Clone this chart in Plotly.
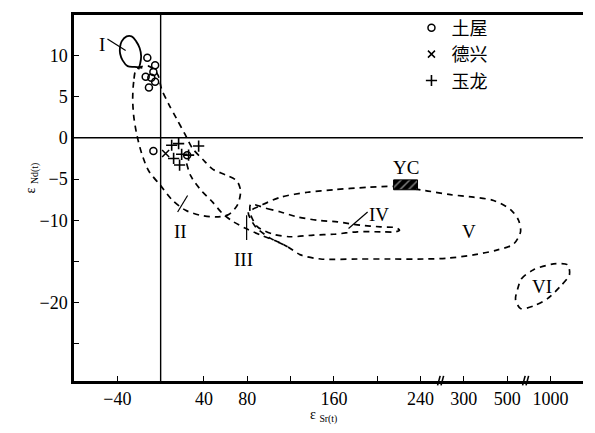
import numpy as np
import plotly.graph_objects as go

# broken eSr axis: every segment after 240 gets the width of one 40-unit step
SR_BREAKS = [-80, 240, 300, 500, 1000, 1500]
POS_BREAKS = [-80, 240, 280, 320, 360, 400]


def pos(v):
    return np.interp(v, SR_BREAKS, POS_BREAKS)


# sample points
TUWU_SR = [-12.3, -5.1, -6.7, -13.8, -8.6, -5.1, -10.8, -6.7, 24.5]
TUWU_ND = [9.7, 8.8, 8.0, 7.4, 7.3, 6.8, 6.1, -1.6, -2.1]
DEXING_SR = [4.6]
DEXING_ND = [-1.9]
YULONG_SR = [10.2, 16.6, 35.1, 12.0, 19.4, 17.5, 25.8]
YULONG_ND = [-0.9, -0.7, -1.0, -2.5, -2.0, -3.3, -2.1]

# field outlines
F1_SR = [-16.9, -24.0, -30.5, -35.1, -37.4, -37.6, -36.0, -31.4, -26.8, -22.6,
         -19.4, -18.0, -18.9, -20.5]
F1_ND = [8.5, 8.6, 8.7, 9.4, 10.2, 10.9, 11.7, 12.3, 12.3, 11.7, 10.9, 9.9, 9.0, 8.3]

F2_SR = [-22.2, -24.9, -25.8, -24.9, -22.2, -17.5, -11.1, 0.0, 11.1, 23.1, 36.9,
         50.8, 62.8, 71.1, 73.8, 70.2, 60.0, 48.0, 38.8, 29.5, 22.2, 14.8, 7.4,
         0.9, -2.8, -11.1, -22.2]
F2_ND = [8.4, 6.8, 4.7, 2.7, 0.5, -1.9, -4.0, -5.8, -7.6, -8.8, -9.4, -9.6, -9.3,
         -8.1, -6.4, -5.2, -4.5, -3.8, -2.6, -1.3, 0.5, 2.3, 4.1, 5.9, 7.7, 8.7, 8.4]

F3_SR = [24.0, 27.7, 36.9, 48.0, 57.2, 67.4, 80.3, 92.3, 108.0, 117.2]
F3_ND = [-3.1, -4.6, -6.3, -7.8, -9.2, -10.2, -11.1, -11.8, -12.6, -13.2]

F4_SR = [83.1, 98.8, 110.8, 126.5, 144.9, 163.4, 184.6, 203.1, 216.9, 220.6, 216.9,
         203.1, 181.8, 159.7, 141.2, 120.0, 104.3, 89.5, 83.1, 83.1]
F4_ND = [-8.1, -8.6, -9.0, -9.6, -10.0, -10.2, -10.6, -10.8, -10.9, -11.2, -11.4,
         -11.4, -11.4, -11.7, -11.8, -12.0, -11.7, -10.8, -9.3, -8.1]

F5_SR = [81.2, 94.2, 110.8, 135.7, 159.7, 191.1, 215.1, 246.9, 281.5, 344.5, 437,
         538.8, 631, 654, 572.5, 455.5, 344.5, 277.4, 244.2, 212.3, 181.8, 147.7,
         129.2, 117.2, 101.5, 87.7, 81.2, 81.2]
F5_ND = [-9.0, -8.1, -7.2, -6.6, -6.3, -6.0, -5.9, -6.4, -6.9, -7.2, -7.6, -8.7,
         -10.0, -11.4, -12.9, -13.6, -14.2, -14.6, -14.7, -14.7, -14.7, -14.7,
         -14.2, -13.2, -12.2, -10.8, -9.3, -9.0]

F6_SR = [619, 665, 804, 1035, 1196, 1219, 1115, 965, 804, 654, 596, 619]
F6_ND = [-18.4, -17.1, -16.0, -15.3, -15.4, -16.6, -18.0, -19.5, -20.4, -20.7,
         -19.6, -18.4]

YC_SR = [215.1, 237.2]
YC_ND = [-5.1, -6.3]

LABEL_TEXT = ["I", "II", "III", "IV", "V", "VI", "YC"]
LABEL_SR = [-54.5, 18.5, 76.6, 201.2, 321.5, 896, 226.2]
LABEL_ND = [11.3, -11.4, -14.7, -9.3, -11.4, -18.0, -3.6]

# leader lines (start sr, start nd, end sr, end nd)
LEADER_SR0 = [-49.1, 15.7, 79.4, 173.5]
LEADER_ND0 = [12.0, -9.0, -9.4, -11.0]
LEADER_SR1 = [-32.3, 24.9, 79.4, 191.1]
LEADER_ND1 = [10.6, -7.0, -12.4, -9.0]

TICK_SR = [-40, 0, 40, 80, 120, 160, 200, 240, 300, 500, 1000]
TICK_SR_TEXT = ["−40", "", "40", "80", "", "160", "", "240", "300", "500", "1000"]
TICK_ND = [10, 5, 0, -5, -10, -15, -20, -25]
TICK_ND_TEXT = ["10", "5", "0", "−5", "−10", "", "−20", ""]

FONT = "Liberation Serif, Times New Roman, Noto Sans CJK SC"
DASH = "6px,5px"

fig = go.Figure()

fig.add_hline(y=0, line=dict(color="black", width=1.4))
fig.add_vline(x=0, line=dict(color="black", width=1.4))

fig.add_trace(go.Scatter(x=pos(F1_SR), y=F1_ND, mode="lines", showlegend=False,
                         line=dict(color="black", width=1.8, shape="spline")))
for sr, nd in [(F2_SR, F2_ND), (F3_SR, F3_ND), (F4_SR, F4_ND),
               (F5_SR, F5_ND), (F6_SR, F6_ND)]:
    fig.add_trace(go.Scatter(
        x=pos(sr), y=nd, mode="lines", showlegend=False,
        line=dict(color="black", width=1.7, dash=DASH, shape="spline",
                  smoothing=0.8)))

for i in range(len(LEADER_SR0)):
    fig.add_trace(go.Scatter(
        x=pos([LEADER_SR0[i], LEADER_SR1[i]]), y=[LEADER_ND0[i], LEADER_ND1[i]],
        mode="lines", showlegend=False, line=dict(color="black", width=1.2)))

# YC hatched box
x0, x1 = pos(YC_SR)
fig.add_trace(go.Scatter(
    x=[x0, x1, x1, x0, x0], y=[YC_ND[0], YC_ND[0], YC_ND[1], YC_ND[1], YC_ND[0]],
    mode="lines", fill="toself", fillcolor="black", showlegend=False,
    fillpattern=dict(shape="/", fgcolor="white", bgcolor="black", size=6,
                     solidity=0.25),
    line=dict(color="black", width=1)))

fig.add_trace(go.Scatter(
    x=pos(TUWU_SR), y=TUWU_ND, mode="markers", name="土屋",
    marker=dict(symbol="circle-open", size=7, color="black",
                line=dict(width=1.5, color="black"))))
fig.add_trace(go.Scatter(
    x=pos(DEXING_SR), y=DEXING_ND, mode="markers", name="德兴",
    marker=dict(symbol="x-thin", size=7, color="black",
                line=dict(width=1.5, color="black"))))
fig.add_trace(go.Scatter(
    x=pos(YULONG_SR), y=YULONG_ND, mode="markers", name="玉龙",
    marker=dict(symbol="cross-thin", size=8, color="black",
                line=dict(width=1.6, color="black"))))

for t, sr, nd in zip(LABEL_TEXT, LABEL_SR, LABEL_ND):
    fig.add_annotation(x=float(pos(sr)), y=nd, text=t, showarrow=False,
                       font=dict(family=FONT, size=19, color="black"))

# axis break marks
for bx in [258.5, 337]:
    for dx in [-1.6, 1.6]:
        fig.add_shape(type="line", xref="x", yref="paper",
                      x0=bx + dx - 1.2, x1=bx + dx + 1.2, y0=-0.012, y1=0.014,
                      line=dict(color="black", width=1.6))

fig.add_annotation(xref="paper", yref="paper", x=-0.105, y=0.555,
                   text="ε <sub>Nd(t)</sub>", textangle=-90, showarrow=False,
                   font=dict(family=FONT, size=14, color="black"))
fig.add_annotation(xref="paper", yref="paper", x=0.49, y=-0.125,
                   text="ε <sub>Sr(t)</sub>", showarrow=False,
                   font=dict(family=FONT, size=14, color="black"))

fig.update_xaxes(
    range=[-80, 390], tickvals=pos(TICK_SR), ticktext=TICK_SR_TEXT,
    ticks="inside", ticklen=5, tickwidth=1.3, tickcolor="black",
    showline=True, linewidth=2.5, linecolor="black", mirror=True,
    showgrid=False, zeroline=False,
    tickfont=dict(family=FONT, size=18, color="black"))
fig.update_yaxes(
    range=[-29.5, 14.9], tickvals=TICK_ND, ticktext=TICK_ND_TEXT,
    ticks="inside", ticklen=5, tickwidth=1.3, tickcolor="black",
    showline=True, linewidth=2.5, linecolor="black",
    showgrid=False, zeroline=False,
    tickfont=dict(family=FONT, size=18, color="black"))

# the page body adds an 8px offset, so the figure is drawn 8px smaller
fig.update_layout(
    width=587, height=425,
    margin=dict(l=66, r=12, t=2, b=52),
    plot_bgcolor="white", paper_bgcolor="white",
    legend=dict(x=0.663, y=1.015, xanchor="left", yanchor="top",
                bgcolor="rgba(0,0,0,0)", tracegroupgap=0,
                font=dict(family=FONT, size=18, color="black")),
)

fig.write_html("out.html")
